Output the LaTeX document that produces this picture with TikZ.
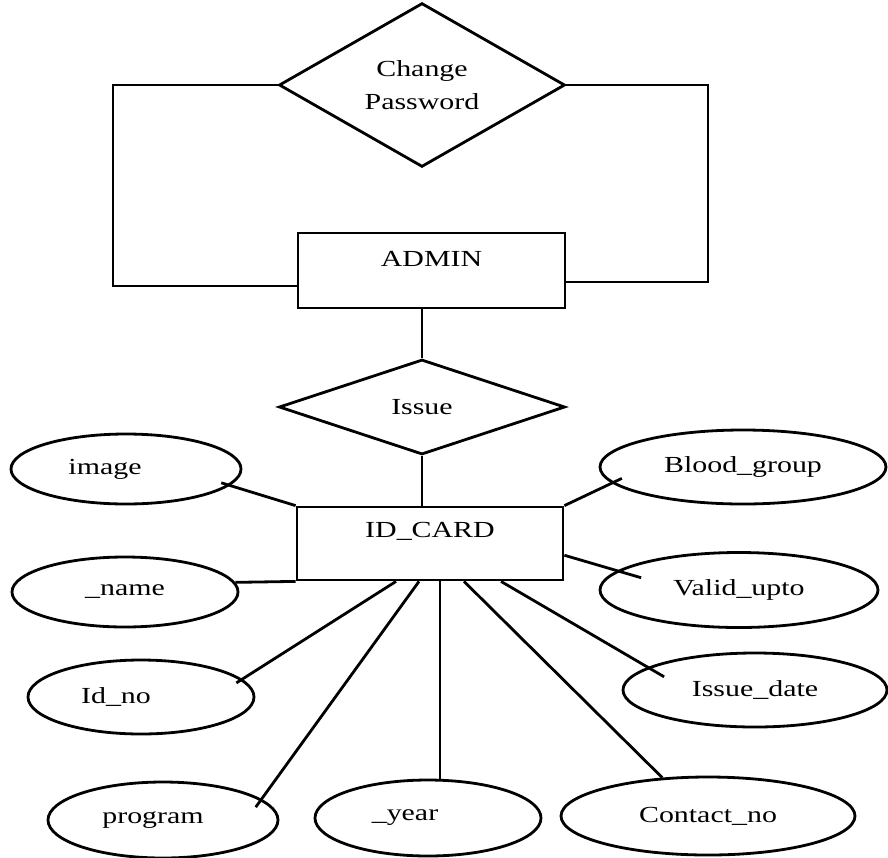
\documentclass[tikz,border=0pt]{standalone}
\usepackage{fontspec}
\setmainfont[FakeStretch=1.3]{Liberation Serif}
\usetikzlibrary{shapes.geometric}

\tikzstyle{entity}=[rectangle,draw,line width=2.8pt,inner sep=0pt,text height=16pt]
\tikzstyle{relation}=[diamond,draw,line width=2.8pt,inner sep=0pt,align=center]
\tikzstyle{attribute}=[ellipse,draw,line width=2.8pt,inner sep=0pt]
\tikzstyle{edge} = [draw,line width=2.8pt,-]

\begin{document}
\begin{tikzpicture}[x=1pt,y=-1pt,font=\fontsize{23}{33}\selectfont]
			\useasboundingbox (0,0) rectangle (888,857);
			\node[relation,minimum width=286pt,minimum height=151pt] (chpw) at (422,85) {Change\\Password};
			\node[entity,minimum width=267pt,minimum height=75pt,text depth=25pt] (admin) at (431.5,270.5) {ADMIN};
			\node[relation,minimum width=286pt,minimum height=95pt] (issue) at (422,407) {Issue};
			\node[entity,minimum width=266pt,minimum height=73pt,text depth=29pt] (idcard) at (430,543.5) {ID\_CARD};
			\node[attribute,minimum width=230pt,minimum height=70pt] (image) at (126,469) {image\hspace*{42pt}};
			\node[attribute,minimum width=286pt,minimum height=74pt] (blood) at (743,467) {Blood\_group};
			\node[attribute,minimum width=226pt,minimum height=70pt] (name) at (125,592) {\_name};
			\node[attribute,minimum width=278pt,minimum height=75pt] (valid) at (739,590) {Valid\_upto};
			\node[attribute,minimum width=226pt,minimum height=74pt] (idno) at (141,697) {Id\_no\hspace*{50pt}};
			\node[attribute,minimum width=264pt,minimum height=74pt] (issuedate) at (755,690) {Issue\_date};
			\node[attribute,minimum width=230pt,minimum height=76pt] (program) at (163,820) {program\hspace*{20pt}};
			\node[attribute,minimum width=226pt,minimum height=76pt] (year) at (428,818) {\_year\hspace*{46pt}};
			\node[attribute,minimum width=294pt,minimum height=78pt] (contact) at (708,816) {Contact\_no};
			% corners of the loop round ADMIN
			\coordinate (lc) at (113,286);
			\coordinate (rc) at (708,282);
			% feet on the lower side of ID_CARD
			\coordinate (b1) at ([xshift=-34pt]idcard.south);
			\coordinate (b2) at ([xshift=-11pt]idcard.south);
			\coordinate (b3) at ([xshift=10pt]idcard.south);
			\coordinate (b4) at ([xshift=34pt]idcard.south);
			\coordinate (b5) at ([xshift=71pt]idcard.south);
			% relationships
			\path[edge] (chpw.west) -| (lc) -- (admin.west |- lc);
			\path[edge] (chpw.east) -| (rc) -- (admin.east |- rc);
			\path[edge] (issue.north |- admin.south) -- (issue.north);
			\path[edge] (issue.south) -- (issue.south |- idcard.north);
	   		 % attributes of ID_CARD
	   		 \foreach \source/\dest/\ext in {idcard.north west/image.-9/9pt, idcard.north east/blood.187/11pt, idcard.-5/valid.171/25pt, idcard.south west/name.5/0pt, b1/idno.10/7pt, b2/program.12/10pt, b3/b3 |- year.north/0pt, b4/contact.140/0pt, b5/issuedate.168/19pt}
			 \path[edge,shorten >=-\ext] (\source) -- (\dest);
		\end{tikzpicture}
\end{document}
